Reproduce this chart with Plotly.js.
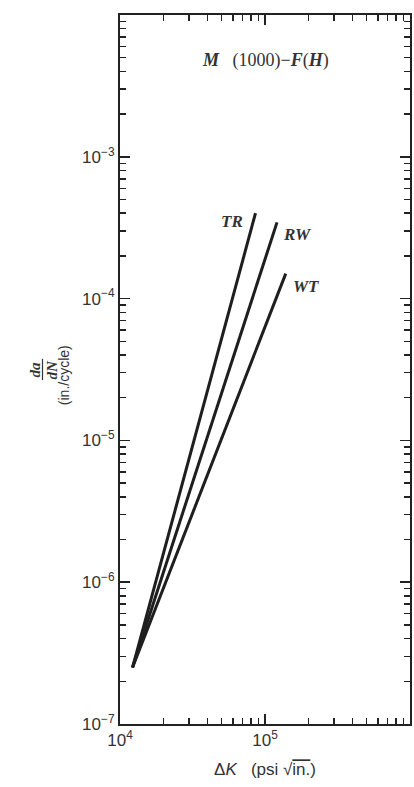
<!DOCTYPE html>
<html>
<head>
<meta charset="utf-8">
<script src="https://cdn.plot.ly/plotly-3.0.1.min.js"></script>
<style>
html,body{margin:0;padding:0;background:#fff;}
#chart{width:414px;height:787px;}
</style>
</head>
<body>
<div id="chart"></div>
<script>
// Data (start and end points of each straight log-log line)
const seriesNames = ["TR", "RW", "WT"];
const deltaK_TR = [1.22e4, 8.6e4];
const rate_TR   = [2.5e-7, 4.0e-4];
const deltaK_RW = [1.22e4, 1.21e5];
const rate_RW   = [2.5e-7, 3.45e-4];
const deltaK_WT = [1.22e4, 1.39e5];
const rate_WT   = [2.5e-7, 1.5e-4];

const xTickVals = [1e4, 1e5, 1e6];
const xTickText = ["10<sup>4</sup>", "10<sup>5</sup>", ""];
const yTickVals = [1e-7, 1e-6, 1e-5, 1e-4, 1e-3, 1e-2];
const yTickText = ["10<sup>−7</sup>", "10<sup>−6</sup>", "10<sup>−5</sup>", "10<sup>−4</sup>", "10<sup>−3</sup>", ""];

const titleText = "<b><i>M</i></b>   (1000)−<b><i>F</i></b>(<b><i>H</i></b>)";
const xTitleText = "Δ<i>K</i>   (psi √<span style='text-decoration:overline'>in.</span>)";
const yTitleNum = "<b><i>da</i></b>";
const yTitleDen = "<b><i>dN</i></b>";
const yTitleUnit = "(in./cycle)";

const xs = [deltaK_TR, deltaK_RW, deltaK_WT];
const ys = [rate_TR, rate_RW, rate_WT];

const traces = xs.map((x, i) => ({
  x: x, y: ys[i], type: "scatter", mode: "lines", name: seriesNames[i],
  line: {color: "#1e1e1e", width: 3}, hoverinfo: "skip"
}));

const labelShift = [[-24, -8], [20, -12], [20, -13]];
const annotations = seriesNames.map((n, i) => ({
  x: Math.log10(xs[i][1]), y: Math.log10(ys[i][1]), xref: "x", yref: "y",
  xanchor: "center", yanchor: "middle",
  text: "<b><i>" + n + "</i></b>", showarrow: false,
  xshift: labelShift[i][0], yshift: labelShift[i][1],
  font: {family: "Liberation Serif, serif", size: 17, color: "#333"}
}));
annotations.push({
  x: 0.5, y: 0.936, xref: "paper", yref: "paper", xanchor: "center", yanchor: "middle",
  text: titleText, showarrow: false,
  font: {family: "Liberation Serif, serif", size: 18, color: "#333"}
});
const lblFont = {family: "Liberation Serif, serif", size: 15, color: "#333"};
const rot = {xref: "paper", yref: "paper", textangle: -90, showarrow: false, xanchor: "center", yanchor: "middle"};
annotations.push(Object.assign({x: (34 - 120) / 290, y: 0.5, text: yTitleNum, font: lblFont}, rot));
annotations.push(Object.assign({x: (51 - 120) / 290, y: 0.5, text: yTitleDen, font: lblFont}, rot));
annotations.push(Object.assign({x: (64 - 120) / 290, y: 0.492, text: yTitleUnit,
  font: {family: "Liberation Sans, Arial, sans-serif", size: 14, color: "#333"}}, rot));

const axisCommon = {
  type: "log", showgrid: false, zeroline: false, showline: true, linecolor: "#222", linewidth: 2,
  mirror: "allticks", ticks: "inside", ticklen: 10, tickwidth: 1.5, tickcolor: "#222",
  minor: {ticks: "inside", ticklen: 6, tickwidth: 1.5, tickcolor: "#222", showgrid: false, dtick: "D1"},
  tickfont: {family: "Liberation Sans, Arial, sans-serif", size: 17, color: "#333"}
};

const layout = {
  width: 414, height: 787, showlegend: false,
  paper_bgcolor: "#fff", plot_bgcolor: "#fff",
  margin: {l: 120, r: 4, t: 15, b: 63},
  xaxis: Object.assign({}, axisCommon, {
    range: [4, 6], tickmode: "array", tickvals: xTickVals, ticktext: xTickText,
    title: {text: xTitleText, font: {family: "Liberation Sans, Arial, sans-serif", size: 17, color: "#333"}, standoff: 14}
  }),
  yaxis: Object.assign({}, axisCommon, {
    range: [-7, -2], tickmode: "array", tickvals: yTickVals, ticktext: yTickText
  }),
  shapes: [{type: "line", xref: "paper", yref: "paper", x0: (42.5 - 120) / 290, x1: (42.5 - 120) / 290, y0: 0.485, y1: 0.515,
    line: {color: "#333", width: 1.2}}],
  annotations: annotations
};

Plotly.newPlot("chart", traces, layout, {staticPlot: true, displayModeBar: false});
</script>
</body>
</html>
